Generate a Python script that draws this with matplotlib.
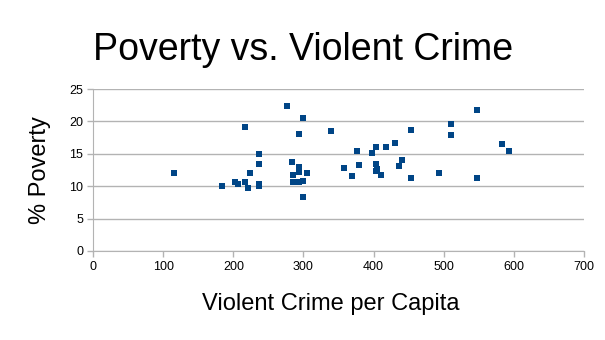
import matplotlib
matplotlib.use("Agg")
import matplotlib.pyplot as plt

plt.rcParams['font.family'] = ['Liberation Sans', 'DejaVu Sans']

# violent crime per capita vs % poverty
crime = [115, 184, 202, 207, 217, 217, 221, 224, 236, 236, 236, 236,
         277, 284, 285, 285, 293, 293, 293, 293, 300, 300, 300, 305, 340,
         358, 370, 377, 380, 398, 404, 404, 405, 404, 410, 418, 431, 440,
         436, 454, 453, 493, 510, 510, 548, 548, 583, 594]
poverty = [12.0, 10.1, 10.6, 10.4, 19.2, 10.6, 9.7, 12.0, 14.9, 13.5, 10.4, 10.1,
           22.4, 13.7, 11.8, 10.6, 18.1, 13.0, 12.2, 10.6, 20.6, 10.8, 8.4, 12.1, 18.5,
           12.8, 11.5, 15.4, 13.3, 15.1, 16.0, 13.5, 12.6, 12.3, 11.8, 16.0, 16.7, 14.0,
           13.1, 18.7, 11.3, 12.1, 19.6, 17.9, 21.7, 11.2, 16.5, 15.5]

x_ticks = [0, 100, 200, 300, 400, 500, 600, 700]
y_ticks = [0, 5, 10, 15, 20, 25]

fig = plt.figure(figsize=(6.05, 3.4), dpi=100)
ax = fig.add_axes([0.1545, 0.262, 0.81, 0.476])

ax.scatter(crime, poverty, marker='s', s=14, color='#004586', zorder=3, linewidths=0)

ax.set_xlim(0, 700)
ax.set_ylim(0, 25)
ax.set_xticks(x_ticks)
ax.set_yticks(y_ticks)
ax.grid(axis='y', color='#b3b3b3', linewidth=1)
ax.set_axisbelow(True)
for s in ['top', 'right']:
    ax.spines[s].set_visible(False)
for s in ['left', 'bottom']:
    ax.spines[s].set_color('#b3b3b3')
ax.tick_params(axis='both', colors='#b3b3b3', labelcolor='black', labelsize=9, length=4, width=1)

fig.text(0.501, 0.825, "Poverty vs. Violent Crime", fontsize=27, ha='center', va='baseline')
ax.set_xlabel("Violent Crime per Capita", fontsize=17)
ax.xaxis.set_label_coords(0.484, -0.26)
ax.set_ylabel("% Poverty", fontsize=17, labelpad=13)

fig.savefig("out.png", dpi=100)
